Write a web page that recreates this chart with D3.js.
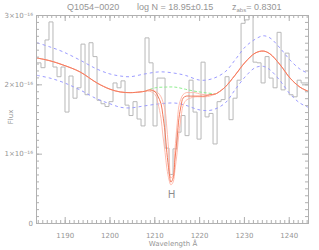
<!DOCTYPE html>
<html>
<head>
<meta charset="utf-8">
<script src="https://cdn.jsdelivr.net/npm/d3@7"></script>
<style>
body { margin: 0; background: #fff; }
text { font-family: 'Liberation Sans', 'DejaVu Sans', sans-serif; fill: #959595; }
</style>
</head>
<body>
<script>
// observed spectrum, binned (left edge of each bin in A, flux in 1e-16)
var binStart = [1183.82,1184.71,1185.61,1186.50,1187.39,1188.29,1189.18,1190.07,1190.96,1191.86,
  1192.75,1193.64,1194.54,1195.43,1196.32,1197.22,1198.11,1199.00,1199.89,1200.79,
  1201.68,1202.57,1203.47,1204.36,1205.25,1206.15,1207.04,1207.93,1208.82,1209.72,
  1210.61,1211.50,1212.40,1213.29,1214.18,1215.08,1215.97,1216.86,1217.75,1218.65,
  1219.54,1220.43,1221.33,1222.22,1223.11,1224.01,1224.90,1225.79,1226.68,1227.58,
  1228.47,1229.36,1230.26,1231.15,1232.04,1232.94,1233.83,1234.72,1235.61,1236.51,
  1237.40,1238.29,1239.19,1240.08,1240.97,1241.87,1242.76,1243.65];
var binEnd = 1244.54;
var flux = [2.31,2.24,2.64,2.90,2.25,2.11,2.25,1.60,2.12,1.80,
  1.95,2.58,1.85,2.60,2.40,1.77,1.72,1.68,1.75,2.02,
  1.95,2.05,1.70,1.55,1.75,1.50,1.40,2.67,2.31,1.40,
  2.09,2.09,1.08,0.70,1.07,1.31,1.55,1.26,2.06,1.60,
  1.21,2.32,1.53,1.58,1.14,1.75,1.78,2.11,1.49,1.80,
  2.06,2.88,2.93,3.05,2.32,2.31,2.02,2.40,2.09,1.95,
  2.75,1.92,2.45,1.85,1.82,2.06,2.02,2.02];

// fitted continuum outside the absorption
var contWaveA = [1183.8,1186.7,1189.6,1193.4,1197.2,1200.1,1202.4,1204.6,1206.8,1207.9];
var contFluxA = [2.38,2.34,2.28,2.18,2.02,1.93,1.89,1.88,1.89,1.90];
var contWaveB = [1224.2,1225.8,1228.0,1230.3,1232.5,1234.3,1235.8,1238.1,1240.3,1242.5,1244.3];
var contFluxB = [1.88,1.96,2.13,2.32,2.45,2.48,2.44,2.28,2.09,1.96,1.90];

// damped Lya fits (best, low N, high N) across the line
var dlaWave = [1209.0,1210.2,1210.8,1211.5,1211.9,1212.4,1212.8,1213.3,1213.7,1214.2,1214.6,
  1215.1,1215.5,1216.0,1216.4,1217.1,1218.0,1219.1,1220.2,1221.3,1222.4,1223.6];
var dlaBest = [1.92,1.89,1.83,1.72,1.56,1.31,1.02,0.74,0.59,0.65,0.91,
  1.23,1.51,1.70,1.80,1.83,1.83,1.83,1.83,1.83,1.85,1.86];
var dlaLow = [1.92,1.90,1.88,1.82,1.75,1.63,1.37,0.98,0.65,0.69,1.05,
  1.43,1.69,1.80,1.85,1.88,1.88,1.88,1.86,1.85,1.85,1.86];
var dlaHigh = [1.90,1.85,1.73,1.51,1.27,1.02,0.79,0.62,0.55,0.59,0.76,
  1.02,1.30,1.54,1.69,1.77,1.80,1.82,1.82,1.82,1.83,1.86];

// unabsorbed continuum under the line
var greenWave = [1207.9,1210.2,1212.4,1214.6,1216.9,1219.1,1221.3,1223.6];
var greenFlux = [1.90,1.95,1.96,1.96,1.93,1.90,1.88,1.86];

// continuum error envelope
var envWave = [1183.8,1186.7,1189.6,1193.4,1197.2,1200.1,1202.4,1204.6,1207.9,1211.3,1214.6,1216.9,
  1220.2,1222.9,1225.8,1228.0,1230.3,1232.5,1234.3,1235.8,1238.1,1240.3,1242.5,1244.3];
var envUpper = [2.60,2.54,2.47,2.35,2.22,2.15,2.12,2.11,2.15,2.18,2.16,2.13,
  2.06,2.08,2.18,2.35,2.54,2.65,2.70,2.67,2.52,2.35,2.22,2.16];
var envLower = [2.13,2.09,2.03,1.92,1.79,1.72,1.67,1.66,1.69,1.72,1.73,1.70,
  1.63,1.63,1.73,1.92,2.11,2.24,2.26,2.21,2.05,1.86,1.73,1.67];

var xTicks = [1190, 1200, 1210, 1220, 1230, 1240];
var yTicks = [0, 1, 2, 3];
var markerWave = 1213.85, markerLabel = 'H';

var W = 319, H = 250;
var pL = 36, pR = 308, pT = 15, pB = 223;
var axisCol = '#b0b0b0';

var svg = d3.select('body').append('svg').attr('width', W).attr('height', H);

var x = d3.scaleLinear().domain([1183.6, 1244.3]).range([pL, pR]);
var y = d3.scaleLinear().domain([0, 3]).range([pB, pT]);

svg.append('clipPath').attr('id', 'clip').append('rect')
  .attr('x', pL).attr('y', pT).attr('width', pR - pL).attr('height', pB - pT);
var plot = svg.append('g').attr('clip-path', 'url(#clip)');

// histogram
var histPts = binStart.map(function(w, i) { return [w, flux[i]]; });
histPts.push([binEnd, flux[flux.length - 1]]);
plot.append('path').datum(histPts)
  .attr('d', d3.line().x(function(d){ return x(d[0]); }).y(function(d){ return y(d[1]); }).curve(d3.curveStepAfter))
  .attr('fill', 'none').attr('stroke', '#b8b8b8').attr('stroke-width', 1);

var smooth = d3.line().x(function(d){ return x(d[0]); }).y(function(d){ return y(d[1]); }).curve(d3.curveCatmullRom);
function zip(a, b) { return a.map(function(v, i) { return [v, b[i]]; }); }

// error envelope
[envUpper, envLower].forEach(function(s) {
  plot.append('path').datum(zip(envWave, s)).attr('d', smooth)
    .attr('fill', 'none').attr('stroke', '#9c9cff').attr('stroke-width', 1).attr('stroke-dasharray', '3,3');
});

// continuum under the line
plot.append('path').datum(zip(greenWave, greenFlux)).attr('d', smooth)
  .attr('fill', 'none').attr('stroke', '#90ee90').attr('stroke-width', 1).attr('stroke-dasharray', '3,2');

// model curves
var pre = zip(contWaveA, contFluxA), post = zip(contWaveB, contFluxB);
[[dlaLow, '#ffb4a6', 0.9], [dlaHigh, '#ffb4a6', 0.9], [dlaBest, '#f47a5c', 1]].forEach(function(m) {
  plot.append('path').datum(pre.concat(zip(dlaWave, m[0]), post)).attr('d', smooth)
    .attr('fill', 'none').attr('stroke', m[1]).attr('stroke-width', m[2]);
});

// H marker
svg.append('text').attr('x', x(markerWave)).attr('y', y(0.36)).attr('text-anchor', 'middle')
  .style('font-size', '10px').style('fill', '#8c8c8c').text(markerLabel);

// axes: majors with labels, minors without
var minorX = d3.range(1184, 1245, 1);
svg.append('g').attr('transform', 'translate(0,' + pB + ')')
  .call(d3.axisBottom(x).tickValues(minorX).tickSize(-3).tickFormat(''));
svg.append('g').attr('transform', 'translate(0,' + pB + ')')
  .call(d3.axisBottom(x).tickValues(xTicks).tickSize(-6).tickPadding(10).tickFormat(d3.format('d')));
svg.append('g').attr('transform', 'translate(0,' + pT + ')')
  .call(d3.axisTop(x).tickValues(minorX).tickSize(-3).tickFormat(''));
svg.append('g').attr('transform', 'translate(0,' + pT + ')')
  .call(d3.axisTop(x).tickValues(xTicks).tickSize(-6).tickFormat(''));

var yMinor = d3.range(0, 31).map(function(i){ return i / 10; });
svg.append('g').attr('transform', 'translate(' + pL + ',0)')
  .call(d3.axisLeft(y).tickValues(yMinor).tickSize(-3).tickFormat(''));
svg.append('g').attr('transform', 'translate(' + pL + ',0)')
  .call(d3.axisLeft(y).tickValues(yTicks).tickSize(-6).tickPadding(3)
    .tickFormat(function(d){ return d === 0 ? '0' : d + '\u00d710\u207b\u00b9\u2076'; }));
svg.append('g').attr('transform', 'translate(' + pR + ',0)')
  .call(d3.axisRight(y).tickValues(yMinor).tickSize(-3).tickFormat(''));
svg.append('g').attr('transform', 'translate(' + pR + ',0)')
  .call(d3.axisRight(y).tickValues(yTicks).tickSize(-6).tickFormat(''));

svg.selectAll('.domain').attr('stroke', axisCol);
svg.selectAll('.tick line').attr('stroke', axisCol);
svg.selectAll('.tick text').style('fill', '#959595').style('font-size', '7px')
  .style('font-family', "'DejaVu Sans', sans-serif");

// labels
svg.append('text').attr('x', 173).attr('y', 246).attr('text-anchor', 'middle')
  .style('font-size', '7px').style('font-family', "'DejaVu Sans', sans-serif").text('Wavelength \u00c5');
svg.append('text').attr('transform', 'translate(13,117) rotate(-90)').attr('text-anchor', 'middle')
  .style('font-size', '7px').style('font-family', "'DejaVu Sans', sans-serif").text('Flux');

// title
var title = svg.append('g').style('font-size', '9px');
title.append('text').attr('x', 67).attr('y', 10).text('Q1054\u22120020');
title.append('text').attr('x', 137).attr('y', 10).text('log N = 18.95\u00b10.15');
var z = title.append('text').attr('x', 232).attr('y', 10);
z.append('tspan').text('z');
z.append('tspan').attr('dy', 2).style('font-size', '6px').text('abs');
z.append('tspan').attr('dy', -2).text('= 0.8301');
</script>
</body>
</html>
